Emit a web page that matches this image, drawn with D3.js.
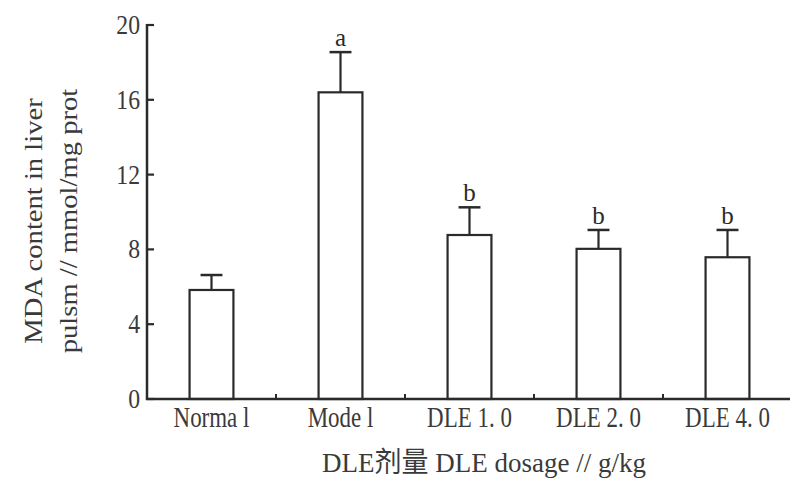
<!DOCTYPE html>
<html><head><meta charset="utf-8">
<script src="https://cdn.jsdelivr.net/npm/d3@7"></script>
<style>html,body{margin:0;padding:0;background:#fff}</style>
</head><body>
<svg id="chart" width="811" height="480"></svg>
<script>
const categories = ["Normal", "Model", "DLE 1.0", "DLE 2.0", "DLE 4.0"];
const categoryLabels = ["Norma l", "Mode l", "DLE 1. 0", "DLE 2. 0", "DLE 4. 0"];
const means = [5.83, 16.4, 8.77, 8.03, 7.58];
const errors = [0.8, 2.15, 1.48, 1.01, 1.46];
const sigLetters = ["", "a", "b", "b", "b"];
const yTicks = [0, 4, 8, 12, 16, 20];
const yTitleLines = ["MDA content in liver", "pulsm // mmol/mg prot"];
const xTitle = "DLE剂量 DLE dosage // g/kg";

const ink = "#2a2a2a";
const font = "'Liberation Serif', 'Noto Sans CJK SC', serif";
const svg = d3.select("#chart");

const y = d3.scaleLinear().domain([0, 20]).range([399, 25]);
const x = d3.scaleBand().domain(categories).range([147, 792]).padding(0);
const bw = x.bandwidth() * 0.34;
const cx = c => x(c) + x.bandwidth() / 2;

// bars
svg.selectAll("rect.bar").data(categories).enter().append("rect")
  .attr("class", "bar")
  .attr("x", c => cx(c) - bw / 2)
  .attr("y", (c, i) => y(means[i]))
  .attr("width", bw)
  .attr("height", (c, i) => y(0) - y(means[i]))
  .attr("fill", "#fff").attr("stroke", ink).attr("stroke-width", 2.2);

// error bars
svg.selectAll("line.err").data(categories).enter().append("line")
  .attr("x1", cx).attr("x2", cx)
  .attr("y1", (c, i) => y(means[i]))
  .attr("y2", (c, i) => y(means[i] + errors[i]))
  .attr("stroke", ink).attr("stroke-width", 2.2);
svg.selectAll("line.cap").data(categories).enter().append("line")
  .attr("x1", c => cx(c) - bw / 4).attr("x2", c => cx(c) + bw / 4)
  .attr("y1", (c, i) => y(means[i] + errors[i]))
  .attr("y2", (c, i) => y(means[i] + errors[i]))
  .attr("stroke", ink).attr("stroke-width", 2.5);

// significance letters
svg.selectAll("text.sig").data(categories).enter().append("text")
  .attr("x", cx)
  .attr("y", (c, i) => y(means[i] + errors[i]) - 6)
  .attr("text-anchor", "middle")
  .attr("font-family", font).attr("font-size", 25).attr("fill", ink)
  .text((c, i) => sigLetters[i]);

// y axis
svg.append("line").attr("x1", 147).attr("x2", 147).attr("y1", y(20) - 1).attr("y2", y(0) + 1)
  .attr("stroke", ink).attr("stroke-width", 2.5);
svg.selectAll("line.ytick").data(yTicks).enter().append("line")
  .attr("x1", 147).attr("x2", 154).attr("y1", d => y(d)).attr("y2", d => y(d))
  .attr("stroke", ink).attr("stroke-width", 2.2);
svg.selectAll("text.ylab").data(yTicks).enter().append("text")
  .attr("transform", d => `translate(140,${y(d) + 9}) scale(0.95,1.08)`)
  .attr("text-anchor", "end")
  .attr("font-family", font).attr("font-size", 25).attr("fill", "#3a3a3a")
  .text(d => d);

// x axis
svg.append("line").attr("x1", 146).attr("x2", 790).attr("y1", y(0)).attr("y2", y(0))
  .attr("stroke", ink).attr("stroke-width", 2.5);
svg.selectAll("line.xtick").data(categories.slice(1)).enter().append("line")
  .attr("x1", c => x(c)).attr("x2", c => x(c)).attr("y1", y(0)).attr("y2", y(0) - 5)
  .attr("stroke", ink).attr("stroke-width", 2);

// category labels
svg.selectAll("text.xlab").data(categories).enter().append("text")
  .attr("transform", c => `translate(${cx(c)},427) scale(0.82,1.05)`)
  .attr("text-anchor", "middle")
  .attr("font-family", font).attr("font-size", 28).attr("fill", "#3a3a3a")
  .text((c, i) => categoryLabels[i]);

// x title
svg.append("text")
  .attr("transform", "translate(484,472) scale(1.0,1.05)")
  .attr("text-anchor", "middle")
  .attr("font-family", font).attr("font-size", 27).attr("fill", "#3a3a3a")
  .text(xTitle);

// y title
svg.selectAll("text.ytitle").data(yTitleLines).enter().append("text")
  .attr("transform", (d, i) => `translate(${i === 0 ? 42 : 77},221) rotate(-90) scale(1.1,1)`)
  .attr("text-anchor", "middle")
  .attr("font-family", font).attr("font-size", 26).attr("fill", "#3a3a3a")
  .text(d => d);
</script>
</body></html>
